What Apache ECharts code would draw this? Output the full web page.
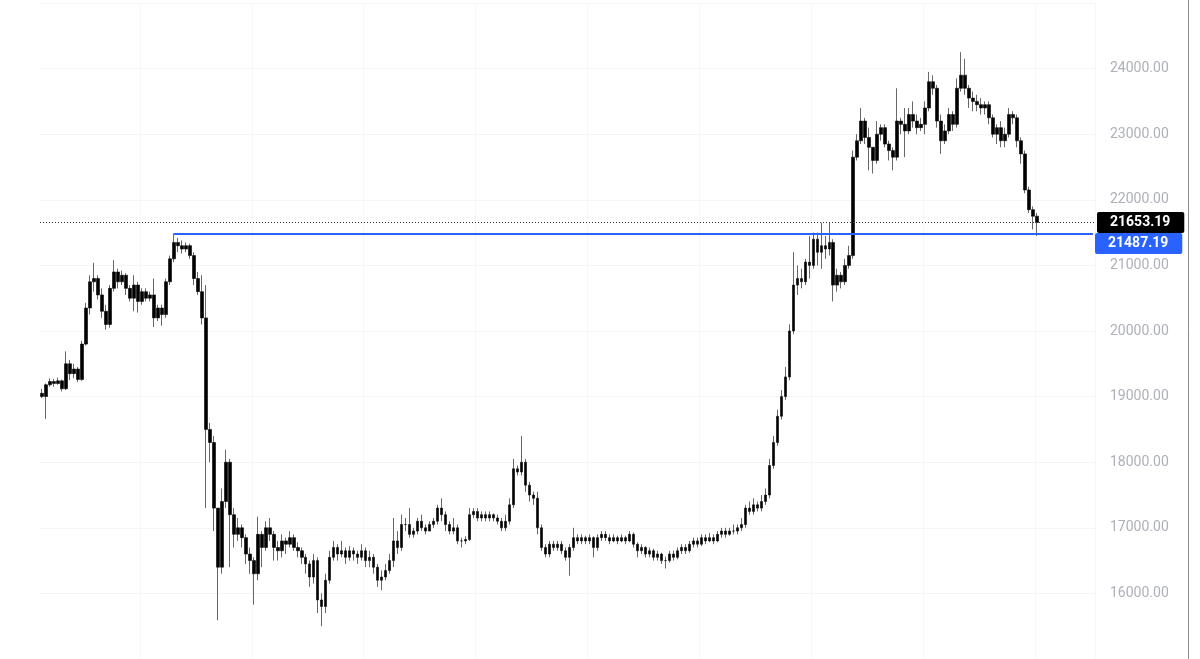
<!DOCTYPE html>
<html>
<head>
<meta charset="utf-8">
<script src="https://cdn.jsdelivr.net/npm/echarts@6/dist/echarts.min.js"></script>
<style>
html,body{margin:0;padding:0;background:#fff;}
#chart{width:1200px;height:659px;}
</style>
</head>
<body>
<div id="chart"></div>
<script>
// Candles: [open, close, low, high]
const candles = [
[19050,19000,18980,19120],[19000,19180,18660,19200],[19180,19230,19150,19280],[19230,19200,19150,19270],
[19200,19240,19180,19290],[19240,19120,19080,19260],[19120,19500,19100,19690],[19500,19350,19250,19560],
[19350,19420,19280,19500],[19420,19260,19220,19450],[19260,19800,19240,19850],[19800,20350,19780,20430],
[20350,20750,20250,20850],[20750,20800,20600,21040],[20800,20550,20480,20850],[20550,20300,20200,20650],
[20300,20100,20020,20400],[20100,20650,20050,20700],[20650,20900,20600,21080],[20900,20750,20650,20950],
[20750,20850,20700,20920],[20850,20650,20550,20880],[20650,20500,20450,20700],[20500,20700,20300,20850],
[20700,20450,20280,20750],[20450,20600,20400,20650],[20600,20500,20450,20650],[20500,20550,20450,20600],
[20550,20200,20060,20800],[20200,20350,20150,20400],[20350,20250,20080,20400],[20250,20750,20200,20800],
[20750,21100,20700,21150],[21100,21350,21050,21487],[21350,21300,21200,21420],[21300,21250,21180,21380],
[21250,21300,21200,21350],[21300,21150,21100,21330],[21150,20800,20700,21200],[20800,20600,20550,20900],
[20600,20200,20100,20850],[20200,18500,17300,20700],[18500,18300,18000,18600],[18300,17300,16950,18400],
[17300,16400,15590,17000],[16400,17400,16300,17600],[17400,18000,17300,18190],[18000,17200,16400,18050],
[17200,16900,16700,17300],[16900,17000,16800,17150],[17000,16850,16700,17050],[16850,16600,16450,16900],
[16600,16500,16300,16700],[16500,16300,15830,16550],[16300,16900,16200,17170],[16900,16700,16400,16950],
[16700,17000,16650,17100],[17000,16900,16800,17150],[16900,16700,16500,16950],[16700,16650,16500,16800],
[16650,16800,16550,16900],[16800,16750,16600,16850],[16750,16850,16700,16950],[16850,16700,16650,16900],
[16700,16650,16550,16780],[16650,16550,16450,16700],[16550,16450,16300,16600],[16450,16250,16100,16500],
[16250,16500,16150,16600],[16500,15900,15700,16550],[15900,15800,15500,16000],[15800,16200,15700,16300],
[16200,16550,16150,16650],[16550,16700,16500,16800],[16700,16600,16500,16750],[16600,16650,16550,16800],
[16650,16550,16450,16700],[16550,16650,16500,16720],[16650,16600,16500,16700],[16600,16550,16450,16650],
[16550,16650,16500,16750],[16650,16500,16400,16700],[16500,16550,16400,16650],[16550,16400,16300,16600],
[16400,16200,16100,16450],[16200,16250,16050,16350],[16250,16350,16200,16450],[16350,16500,16300,16600],
[16500,16800,16400,17150],[16800,16700,16600,16950],[16700,17050,16650,17200],[17050,17050,16950,17150],
[17050,16900,16850,17300],[16900,16950,16850,17000],[16950,17100,16900,17150],[17100,17000,16950,17200],
[17000,16950,16900,17050],[16950,17050,16950,17100],[17050,17100,17000,17150],[17100,17300,17050,17350],
[17300,17200,17100,17450],[17200,17050,16950,17250],[17050,16950,16900,17100],[16950,17000,16900,17150],
[17000,16800,16750,17050],[16800,16800,16700,16850],[16800,16820,16750,16870],[16820,17200,16800,17300],
[17200,17250,17150,17300],[17250,17150,17100,17300],[17150,17200,17100,17250],[17200,17150,17100,17250],
[17150,17200,17100,17250],[17200,17150,17100,17220],[17150,17100,17050,17200],[17100,17000,16950,17150],
[17000,17100,16950,17200],[17100,17350,17050,17450],[17350,17900,17300,18050],[17900,17850,17800,17950],
[17850,18000,17800,18400],[18000,17650,17550,18050],[17650,17500,17400,17700],[17500,17450,17350,17550],
[17450,17000,16900,17550],[17000,16700,16650,17050],[16700,16600,16550,16750],[16600,16750,16550,16800],
[16750,16700,16650,16800],[16700,16750,16650,16800],[16750,16650,16600,16800],[16650,16550,16500,16700],
[16550,16700,16270,16750],[16700,16850,16650,17000],[16850,16800,16750,16900],[16800,16850,16750,16900],
[16850,16800,16750,16880],[16800,16850,16750,16900],[16850,16700,16550,16870],[16700,16850,16650,16900],
[16850,16900,16800,16950],[16900,16850,16800,16950],[16850,16800,16750,16900],[16800,16850,16780,16900],
[16850,16800,16750,16880],[16800,16850,16780,16900],[16850,16800,16750,16880],[16800,16900,16780,16950],
[16900,16750,16700,16930],[16750,16650,16550,16780],[16650,16700,16600,16750],[16700,16600,16550,16720],
[16600,16650,16550,16700],[16650,16550,16500,16680],[16550,16600,16500,16650],[16600,16500,16450,16620],
[16500,16500,16380,16560],[16500,16600,16470,16650],[16600,16550,16500,16650],[16550,16650,16520,16700],
[16650,16700,16600,16750],[16700,16650,16600,16750],[16650,16750,16620,16800],[16750,16800,16700,16850],
[16800,16750,16700,16850],[16750,16850,16720,16900],[16850,16800,16750,16900],[16800,16850,16780,16920],
[16850,16800,16750,16900],[16800,16900,16780,16950],[16900,16950,16850,17000],[16950,16900,16850,17000],
[16900,16950,16880,17000],[16950,16950,16900,17050],[16950,17000,16900,17050],[17000,17050,16950,17150],
[17050,17300,17000,17350],[17300,17250,17200,17400],[17250,17350,17200,17450],[17350,17300,17250,17400],
[17300,17400,17250,17500],[17400,17500,17350,17600],[17500,17950,17450,18050],[17950,18300,17900,18400],
[18300,18700,18250,18800],[18700,19000,18650,19100],[19000,19300,18950,19450],[19300,20000,19250,20100],
[20000,20700,19950,21200],[20700,20800,20550,21000],[20800,20750,20650,20950],[20750,21050,20700,21100],
[21050,21000,20800,21450],[21000,21400,20950,21500],[21400,21200,21000,21500],[21200,21300,20950,21650],
[21300,21250,21100,21450],[21250,21350,21150,21650],[21350,20700,20450,21400],[20700,20850,20600,20950],
[20850,20750,20650,20900],[20750,21000,20700,21100],[21000,21150,20950,21300],[21150,22650,21100,22750],
[22650,22900,22600,23000],[22900,23200,22850,23400],[23200,22950,22850,23250],[22950,22800,22450,23100],
[22800,22600,22400,22800],[22600,23000,22550,23200],[23000,23100,22900,23150],[23100,22850,22800,23150],
[22850,22750,22600,22900],[22750,22650,22450,22800],[22650,23200,22600,23700],[23200,23150,23000,23250],
[23150,23050,22650,23400],[23050,23300,23000,23400],[23300,23200,23100,23500],[23200,23100,23000,23300],
[23100,23150,23050,23250],[23150,23400,23000,23500],[23400,23800,23350,23950],[23800,23700,23600,23900],
[23700,23200,23100,23750],[23200,22900,22700,23300],[22900,23050,22850,23150],[23050,23300,23000,23400],
[23300,23150,23050,23350],[23150,23700,23100,23850],[23700,23900,23650,24250],[23900,23700,23600,24150],
[23700,23550,23400,23750],[23550,23500,23350,23650],[23500,23450,23350,23600],[23450,23400,23300,23550],
[23400,23450,23300,23500],[23450,23250,23150,23500],[23250,23000,22950,23300],[23000,23100,22850,23150],
[23100,22900,22800,23200],[22900,23000,22800,23100],[23000,23300,22950,23400],[23300,23250,23150,23350],
[23250,22900,22800,23300],[22900,22700,22550,22950],[22700,22150,22100,22750],[22150,21850,21800,22200],
[21850,21750,21550,21900],[21750,21653.19,21450,21800]
];
const emptySlotsAfter = 14;          // future slots to the right of the last candle
const lastPrice = 21653.19;
const levelPrice = 21487.19;
const levelStartIndex = 33;          // candle where the blue level starts
const yMin = 15000, yMax = 25000, yStep = 1000;

const categories = [];
for (let i = 0; i < candles.length + emptySlotsAfter; i++) categories.push(String(i));

const chart = echarts.init(document.getElementById('chart'), null, {renderer: 'canvas'});
const FONT = 'Roboto, "Liberation Sans", sans-serif';

chart.setOption({
  animation: false,
  backgroundColor: '#ffffff',
  grid: {left: 40, right: 105, top: 3, bottom: -6, containLabel: false},
  xAxis: {
    type: 'category',
    data: categories,
    boundaryGap: true,
    axisLine: {show: false},
    axisTick: {show: false},
    axisLabel: {show: false},
    splitLine: {
      show: true,
      interval: function (idx) { return idx % 28 === 25; },
      lineStyle: {color: '#f7f7f7', width: 1}
    }
  },
  yAxis: {
    type: 'value',
    position: 'right',
    min: yMin, max: yMax, interval: yStep,
    axisLine: {show: false},
    axisTick: {show: false},
    splitLine: {show: true, lineStyle: {color: '#f5f5f5', width: 1}},
    axisLabel: {
      show: true,
      showMinLabel: false,
      showMaxLabel: false,
      margin: 15,
      color: '#adb0b8',
      fontFamily: FONT,
      fontSize: 14,
      formatter: function (v) { return v.toFixed(2); }
    }
  },
  series: [{
    type: 'candlestick',
    data: candles,
    barWidth: 3,
    itemStyle: {
      color: '#000', color0: '#000',
      borderColor: '#000', borderColor0: '#000',
      borderWidth: 0.6
    },
    markLine: {
      silent: true,
      symbol: ['none', 'none'],
      animation: false,
      data: [
        {
          yAxis: lastPrice,
          lineStyle: {color: '#333', type: [1, 2], width: 1},
          label: {
            show: true, position: 'end', distance: 2,
            formatter: lastPrice.toFixed(2),
            backgroundColor: '#000', color: '#fff',
            fontFamily: FONT, fontSize: 14, fontWeight: 'bold',
            padding: [4, 14, 3, 13], borderRadius: 2
          }
        },
        [
          {
            coord: [String(levelStartIndex), levelPrice],
            lineStyle: {color: '#2962ff', type: 'solid', width: 2},
            label: {
              show: true, position: 'end', distance: 2,
              formatter: levelPrice.toFixed(2),
              backgroundColor: '#2962ff', color: '#fff',
              fontFamily: FONT, fontSize: 14, fontWeight: 'bold',
              padding: [4, 14, 3, 13], borderRadius: 2,
              offset: [0, 10]
            }
          },
          {coord: [categories[categories.length - 1], levelPrice]}
        ]
      ]
    }
  }],
  graphic: [{
    type: 'line',
    shape: {x1: 1188.5, y1: 0, x2: 1188.5, y2: 659},
    style: {stroke: '#8a8d95', lineWidth: 1},
    silent: true
  }]
});
</script>
</body>
</html>
